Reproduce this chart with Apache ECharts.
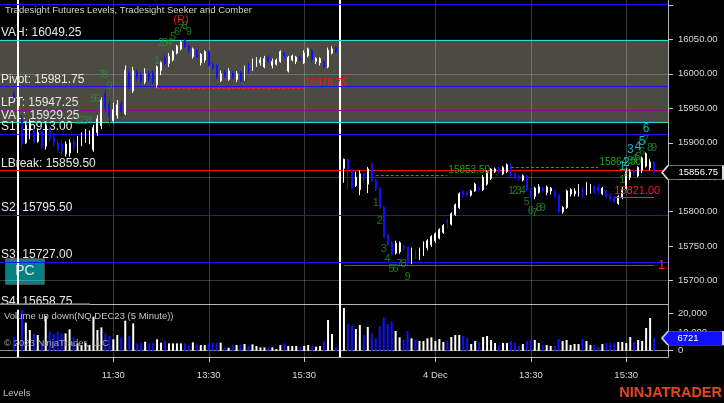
<!DOCTYPE html>
<html><head><meta charset="utf-8">
<script src="https://cdn.jsdelivr.net/npm/echarts@6/dist/echarts.min.js"></script>
<style>html,body{margin:0;padding:0;background:#000;}#c{width:724px;height:403px;}</style>
</head><body><div id="c"></div>
<script>
// ---------- DATA ----------
// bars as [open, high, low, close]
const nov30Bars = [[15972,15975,15964,15966]];
const dec1Bars = [
[15935,15940,15892,15898],[15900,15930,15898,15925],[15918,15934,15905,15928],[15918,15925,15898,15901],[15902,15920,15900,15915],
[15918,15922,15892,15894],[15895,15928,15890,15925],[15920,15925,15900,15905],[15908,15915,15894,15900],[15900,15905,15885,15890],
[15898,15905,15880,15888],[15884,15902,15880,15898],[15885,15905,15880,15900],[15902,15906,15890,15895],[15893,15910,15885,15905],
[15900,15915,15895,15910],[15905,15920,15900,15915],[15908,15918,15898,15915],[15890,15926,15887,15922],[15915,15940,15910,15935],
[15925,15966,15920,15962],[15972,15976,15944,15950],[15955,15960,15925,15938],[15932,15958,15928,15948],[15940,15962,15935,15955],
[15956,15960,15938,15945],[15942,16012,15940,16005],[16000,16005,15978,15982],[15975,16010,15972,16005],[16002,16006,15990,15996],
[15998,16002,15985,15990],[15988,16008,15985,16000],[16000,16004,15988,15992],[16000,16005,15985,15988],[15984,16012,15980,16010],
[16005,16018,15998,16016],[16022,16027,16012,16015],[16015,16030,16010,16025],[16020,16034,16018,16032],[16030,16042,16028,16040],
[16036,16049,16034,16046],[16048,16051,16038,16040],[16040,16042,16030,16035],[16025,16038,16022,16036],[16034,16036,16022,16024],
[16016,16030,16012,16028],[16020,16034,16016,16032],[16032,16034,16010,16012],[16014,16016,16006,16008],[16012,16014,15992,15995],
[15990,16005,15988,16000],[16002,16005,15994,15997],[15992,16008,15990,16004],[16000,16004,15992,15996],[15992,16004,15988,16000],
[16002,16004,15988,15990],[15992,16012,15990,16010],[16012,16016,16000,16003],[16006,16022,16004,16020],[16012,16024,16010,16022],
[16016,16024,16012,16020],[16010,16026,16008,16022],[16024,16026,16016,16018],[16012,16022,16008,16018],[16014,16022,16012,16020],
[16018,16034,16016,16032],[16030,16032,16022,16026],[16004,16026,16002,16024],[16020,16028,16018,16026],[16018,16026,16014,16024],
[16024,16026,16018,16020],[16016,16034,16014,16030],[16026,16038,16024,16036],[16034,16036,16018,16020],[16018,16024,16014,16022],
[16016,16024,16012,16022],[16018,16020,16008,16010],[16010,16038,16008,16034],[16030,16040,16028,16036],[16038,16040,16030,16032]
];
const dec4Bars = [
[15863,15877,15842,15876],[15876,15877,15833,15861],[15861,15862,15832,15834],[15838,15858,15836,15850],[15832,15860,15824,15855],
[15856,15857,15842,15848],[15840,15865,15827,15862],[15868,15872,15843,15845],[15846,15848,15830,15832],[15834,15836,15804,15806],
[15807,15808,15762,15763],[15766,15768,15750,15752],[15755,15758,15736,15738],[15740,15758,15738,15754],[15742,15757,15739,15755],
[15750,15752,15744,15746],[15748,15750,15722,15726],[15728,15748,15724,15746],[15742,15745,15732,15738],[15735,15748,15730,15746],
[15742,15757,15736,15756],[15748,15760,15744,15758],[15752,15766,15749,15764],[15758,15770,15755,15768],[15762,15776,15760,15774],
[15770,15782,15768,15780],[15786,15790,15776,15784],[15782,15799,15780,15797],[15796,15812,15794,15810],[15806,15828,15804,15826],
[15830,15832,15821,15824],[15828,15830,15822,15824],[15824,15832,15822,15830],[15830,15842,15829,15840],[15834,15836,15830,15832],
[15832,15853,15830,15850],[15840,15860,15838,15858],[15848,15863,15846,15862],[15858,15864,15856,15862],[15864,15866,15856,15858],
[15855,15866,15853,15864],[15858,15870,15856,15868],[15866,15870,15850,15852],[15856,15858,15848,15850],[15852,15854,15845,15848],
[15846,15854,15844,15852],[15852,15853,15830,15832],[15832,15834,15820,15822],[15822,15836,15818,15834],[15828,15840,15826,15836],
[15834,15836,15828,15830],[15828,15838,15824,15836],[15830,15836,15825,15834],[15830,15832,15820,15822],[15824,15826,15798,15800],
[15800,15808,15797,15806],[15806,15832,15804,15830],[15826,15834,15822,15832],[15826,15834,15822,15830],[15826,15840,15822,15836],
[15834,15836,15820,15824],[15826,15843,15824,15840],[15830,15840,15826,15836],[15836,15838,15826,15828],[15836,15840,15825,15830],
[15826,15836,15824,15834],[15830,15832,15820,15822],[15824,15826,15816,15818],[15820,15822,15813,15814],[15812,15824,15810,15822],
[15820,15836,15818,15832],[15834,15864,15832,15858],[15850,15862,15846,15858],[15860,15862,15852,15856],[15852,15866,15850,15864],
[15860,15880,15856,15878],[15866,15886,15864,15884],[15864,15876,15860,15872],[15872,15874,15855,15856.75]
];
const nov30Vol = [7000];
const dec1Vol = [21750,14980,11050,9270,8380,4810,18540,10160,8910,10160,9270,9270,11410,7130,3920,3030,4280,3030,18190,11050,
12480,9270,7850,6060,8380,7130,16050,7850,14620,3920,4280,4810,3920,4280,6060,4280,5350,3920,3920,3920,
3920,3920,3030,4460,3390,3030,3030,3920,4280,4280,4280,1780,1600,3030,3030,3030,3570,2500,3390,2500,
1780,1780,1600,1780,890,3030,3920,2500,2500,2500,1780,2500,3030,2500,2140,2500,4990,16400,8910,1780];
const dec4Vol = [22820,14260,13190,11590,13730,8380,12660,9270,6600,13190,17830,14260,15690,10520,7130,5710,10520,6600,6060,5170,
5170,6600,7130,5170,6240,4640,5170,7310,8380,8380,7850,6780,3570,5170,4640,7310,7850,5710,4100,3030,
4100,4100,5170,4100,2500,3570,5170,6240,5710,4100,3030,3030,2500,2500,6240,5170,5710,3030,3570,3570,
6240,5170,3030,3030,1960,3570,4100,4100,4100,4640,4640,4100,7310,4640,5710,5170,12120,17470,6721];

// levels
const levelNames  = ['R1','VAH','Pivot','LPT','VAL','S1','LBreak','S2','S3','S4'];
const levelValues = [16101.25,16049.25,15981.75,15947.25,15929.25,15913.00,15859.50,15795.50,15727.00,15658.75];
const levelColors = ['#1414ff','#22e2e2','#1414ff','#8a108a','#22e2e2','#1414ff','#ff1010','#1414ff','#1414ff','#1414ff'];

const priceTicks  = [15700,15750,15800,15850,15900,15950,16000,16050,16100];
const priceLabels = [15700,15750,15800,15850,15900,15950,16000,16050];
const priceGridVals = [15700,15850,16000];
const volTicks = [0,10000,20000];

const tickTimes  = ['2023-12-01 11:30','2023-12-01 13:30','2023-12-01 15:30','2023-12-04 11:30','2023-12-04 13:30','2023-12-04 15:30'];
const tickLabels = ['11:30','13:30','15:30','4 Dec','13:30','15:30'];
const sessionBreaks = ['2023-11-30 16:15','2023-12-01 16:15'];

// seeker / comber counts: [slot index, price, text, kind]
const countLabels = [
[19,15931,'1','g'],[20,15931,'2','g'],[21,15931,'3','g'],[22,15931,'4','g'],[23,15963,'5','g'],[24,15963,'6','g'],[25,15999,'7','g'],[26,15999,'8','g'],[27,15982,'9','g'],
[39,16018,'1','g'],[40,16045,'2','g'],[41,16045,'3','g'],[42,16045,'4','g'],[43,16053,'5','g'],[44,16061,'6','g'],[45,16065,'7','g'],[46,16069,'8','g'],[47,16061,'9','g'],
[45,16078,'(R)','r'],
[94,15813,'1','g'],[95,15787,'2','g'],[96,15746,'3','g'],[97,15731,'4','g'],[98,15717,'5','g'],[99,15717,'6','g'],[100,15724,'7','g'],[101,15724,'8','g'],[102,15705,'9','g'],
[128,15830,'1','g'],[129,15830,'2','g'],[130,15830,'3','g'],[131,15830,'4','g'],[132,15814,'5','g'],[133,15801,'6','g'],[134,15798,'7','g'],[135,15805,'8','g'],[136,15805,'9','g'],
[156,15846,'1','g'],[157,15856,'2','g'],[158,15874,'3','g'],[159,15876,'4','g'],[160,15879,'5','g'],[161,15887,'6','g'],[162,15904,'7','g'],[163,15892,'8','g'],[164,15892,'9','g'],
[156,15865,'1','c'],[157,15871,'2','c'],[158,15890,'3','c'],[160,15895,'4','c'],[161,15901,'5','c'],[162,15920,'6','c']
];
// drawn price objects: [startSlot, endSlot, price, text, kind]
const drawnLines = [
[39,76,15978.75,'15978.75','rd'],
[94,112,15853.50,'15853.50','gd'],
[128,150,15864.00,'15864.00','gd'],
[154,164,15821.00,'15821.00','rs'],
[86,164,15722.25,'1','rl']
];

// ---------- categories (5 minute bars, RTH sessions) ----------
function slots(date, startMin, n){const a=[];for(let i=0;i<n;i++){const m=startMin+5*i;a.push(date+' '+String(Math.floor(m/60)).padStart(2,'0')+':'+String(m%60).padStart(2,'0'));}return a;}
const cats = [].concat(slots('2023-11-30',15*60+55,5), slots('2023-12-01',9*60+35,81), slots('2023-12-04',9*60+35,82));
const N = cats.length;
const dec1Start = 5, dec4Start = 86;

const price = new Array(N).fill(null).map(()=>['-','-','-','-']);
const vol = new Array(N).fill('-');
function place(bars, vols, start){
  bars.forEach((b,i)=>{
    price[start+i] = [b[0], b[3], b[2], b[1]];
    vol[start+i] = {value: vols[i], itemStyle:{color: b[3] >= b[0] ? '#ffffff' : '#1010ff'}};
  });
}
place(nov30Bars, nov30Vol, 3);
place(dec1Bars, dec1Vol, dec1Start);
place(dec4Bars, dec4Vol, dec4Start);
const lastPrice = dec4Bars[dec4Bars.length-1][3];
const lastVol = dec4Vol[dec4Vol.length-1];

const FONT = 'Liberation Sans, Arial, sans-serif';
const gridLineColor = 'rgba(255,255,255,0.22)';
const kindColor = {g:'#22962a', c:'#18dcec', r:'#ff2020'};

const tickFn = (i, v) => tickTimes.indexOf(v) >= 0;

const vGrid = tickTimes.map(t => ({xAxis: t}));
const vBreaks = sessionBreaks.map(t => ({xAxis: t, lineStyle:{color:'#ffffff', width:2, type:'solid'}}));

const levelLines = levelNames.map((n,i)=>({
  yAxis: levelValues[i],
  lineStyle:{color: levelColors[i], width:1, type:'solid'},
  label:{show:true, position:'insideStartTop', distance:[1,1], formatter: n+': '+levelValues[i].toFixed(2),
         color:'#e6e6e6', fontSize:12, fontFamily:FONT}
}));

const annLines = drawnLines.map(d=>{
  const k = d[4];
  const col = k[0]==='r' ? '#ff1a1a' : '#23a023';
  const dashed = k[1]==='d';
  let label;
  if (k==='rs') label = {show:true, position:'insideStartTop', distance:[0,1], formatter:d[3], color:'#ff1a1a', fontSize:11, fontFamily:FONT};
  else if (k==='rl') label = {show:true, position:'end', distance:4, formatter:d[3], color:'#ff2a10', fontSize:13, fontFamily:FONT};
  else label = {show:true, position:'end', distance:1, formatter:d[3], color:col, fontSize:10, fontFamily:FONT, offset:[0,-5]};
  return [{coord:[cats[d[0]], d[2]], lineStyle:{color:col, width:1, type: dashed?[3,2]:'solid'}, label},
          {coord:[cats[d[1]], d[2]]}];
});

const baseGraphic = [
  {type:'text', left:5, top:5, z:20, style:{text:'Tradesight Futures Levels, Tradesight Seeker and Comber', fill:'#cfcfcf', fontSize:9.5, fontFamily:FONT}},
  {type:'text', left:4, top:311, z:20, style:{text:'Volume up down(NQ DEC23 (5 Minute))', fill:'#c4c4c4', fontSize:9.5, fontFamily:FONT}},
  {type:'text', left:4, top:338, z:20, style:{text:'\u00A9 2023 NinjaTrader, LLC', fill:'#a8a8a8', fontSize:9.5, fontFamily:FONT}},
  {type:'text', left:3, top:388, z:20, style:{text:'Levels', fill:'#c0c0c0', fontSize:9.5, fontFamily:FONT}},
  {type:'text', right:2, top:385, z:20, style:{text:'NINJATRADER', fill:'#e4461e', fontSize:14.5, fontWeight:'bold', fontFamily:FONT}},
  {type:'group', left:5, top:258, z:20, children:[
    {type:'rect', shape:{x:0, y:0, width:39, height:26}, style:{fill:'#008080', stroke:'#4a4a4a', lineWidth:1}},
    {type:'text', style:{x:19.5, y:13, text:'PC', fill:'#e8e8e8', fontSize:14, fontFamily:FONT, textAlign:'center', textVerticalAlign:'middle'}}
  ]}
];

const chart = echarts.init(document.getElementById('c'));
chart.setOption({
  animation:false,
  backgroundColor:'#000000',
  textStyle:{fontFamily:FONT},
  grid:[
    {left:0, top:0, width:668, height:304},
    {left:0, top:304, width:668, height:53}
  ],
  xAxis:[
    {type:'category', gridIndex:0, data:cats, boundaryGap:true,
     axisLine:{show:true, onZero:false, lineStyle:{color:'#b4b4b4', width:1}}, axisTick:{show:false}, axisLabel:{show:false}, splitLine:{show:false}},
    {type:'category', gridIndex:1, data:cats, boundaryGap:true,
     axisLine:{show:true, onZero:false, lineStyle:{color:'#b4b4b4', width:1}},
     axisTick:{show:true, interval:tickFn, alignWithLabel:true, length:5, lineStyle:{color:'#c8c8c8'}},
     axisLabel:{show:true, interval:tickFn, formatter:(v)=>{const i=tickTimes.indexOf(v);return i>=0?tickLabels[i]:'';},
                color:'#d8d8d8', fontSize:9.5, margin:13, fontFamily:FONT},
     splitLine:{show:false}}
  ],
  yAxis:[
    {type:'value', gridIndex:0, position:'right', min:15666.2, max:16107,
     axisLine:{show:true, lineStyle:{color:'#b4b4b4', width:1}},
     axisTick:{show:true, length:5, customValues:priceTicks, lineStyle:{color:'#c8c8c8'}},
     axisLabel:{show:true, customValues:priceLabels, formatter:(v)=>Number(v).toFixed(2), color:'#d8d8d8', fontSize:9.5, margin:10, fontFamily:FONT},
     splitLine:{show:false}},
    {type:'value', gridIndex:1, position:'right', min:-3369, max:24973,
     axisLine:{show:true, lineStyle:{color:'#b4b4b4', width:1}},
     axisTick:{show:true, length:5, customValues:volTicks, lineStyle:{color:'#c8c8c8'}},
     axisLabel:{show:true, customValues:volTicks, color:'#d8d8d8', fontSize:9.5, margin:10, fontFamily:FONT},
     splitLine:{show:false}}
  ],
  series:[
    {type:'line', xAxisIndex:0, yAxisIndex:0, data:[], silent:true,
     markArea:{silent:true, z:1, itemStyle:{color:'#4b4a43'}, data:[[{yAxis:levelValues[4]},{yAxis:levelValues[1]}]]},
     markLine:{silent:true, z:2, symbol:['none','none'], label:{show:false},
       lineStyle:{color:gridLineColor, width:1, type:'solid'},
       data: vGrid.concat(priceGridVals.map(v=>({yAxis:v}))).concat(vBreaks)}},
    {type:'line', xAxisIndex:0, yAxisIndex:0, data:[], silent:true, clip:false,
     markLine:{silent:true, z:3, symbol:['none','none'], data:levelLines}},
    {type:'candlestick', xAxisIndex:0, yAxisIndex:0, data:price, z:4, barWidth:1.4,
     itemStyle:{color:'#ffffff', color0:'#1010ff', borderColor:'#ffffff', borderColor0:'#1010ff', borderWidth:1},
     markPoint:{z:8, data:[{coord:[cats[N-1], lastPrice], symbol:'path://M0,7L6,0L61,0L61,14L6,14Z', symbolSize:[61,14], symbolKeepAspect:false,
        symbolOffset:[26.5,0], itemStyle:{color:'#000000', borderColor:'#dcdcdc', borderWidth:1},
        label:{show:true, position:'inside', align:'left', offset:[-14,0], formatter:lastPrice.toFixed(2), color:'#ffffff', fontSize:9.5, fontFamily:FONT}}]}},
    {type:'line', xAxisIndex:0, yAxisIndex:0, data:[], silent:true, clip:false,
     markLine:{silent:true, z:5, symbol:['none','none'], data:annLines}},
    {type:'scatter', xAxisIndex:0, yAxisIndex:0, z:6, silent:true, clip:false, symbolSize:1, itemStyle:{color:'rgba(0,0,0,0)'},
     data: countLabels.map(c=>({value:[c[0], c[1]], label:{show:true, position:'inside', formatter:c[2], color:kindColor[c[3]],
        fontSize: c[3]==='c'?12:11, fontFamily:FONT}}))},
    {type:'line', xAxisIndex:1, yAxisIndex:1, data:[], silent:true,
     markLine:{silent:true, z:2, symbol:['none','none'], label:{show:false},
       lineStyle:{color:gridLineColor, width:1, type:'solid'},
       data: vGrid.concat([{yAxis:0, lineStyle:{color:'#8c8c8c', width:1, type:'solid'}}]).concat(vBreaks)}},
    {type:'bar', xAxisIndex:1, yAxisIndex:1, data:vol, z:4, barWidth:2,
     markPoint:{z:8, data:[{coord:[cats[N-1], lastVol], symbol:'path://M0,7L6,0L61,0L61,14L6,14Z', symbolSize:[61,14], symbolKeepAspect:false,
        symbolOffset:[26.5,0], itemStyle:{color:'#1010ff', borderColor:'#d0d0d0', borderWidth:1},
        label:{show:true, position:'inside', align:'left', offset:[-15,0], formatter:String(lastVol), color:'#ffffff', fontSize:9.5, fontFamily:FONT}}]}}
  ],
  graphic: baseGraphic
});

// S4 lies below the price panel: place its label from the axis scale, cut at the panel edge
const s4Y = chart.convertToPixel({yAxisIndex:0}, levelValues[9]);
const panelBottom = chart.convertToPixel({yAxisIndex:0}, 15666.2);
chart.setOption({graphic: baseGraphic.concat([
  {type:'text', x:1, y:s4Y-1, z:15, style:{text:'S4: '+levelValues[9].toFixed(2), fill:'#e6e6e6', fontSize:12, fontFamily:FONT, textVerticalAlign:'bottom'}},
  {type:'rect', shape:{x:0, y:panelBottom+0.5, width:90, height:Math.max(0, s4Y-panelBottom)}, z:16, style:{fill:'#000000'}},
  {type:'rect', shape:{x:0, y:panelBottom-0.5, width:90, height:1}, z:17, style:{fill:'#b4b4b4'}}
])});
</script></body></html>
